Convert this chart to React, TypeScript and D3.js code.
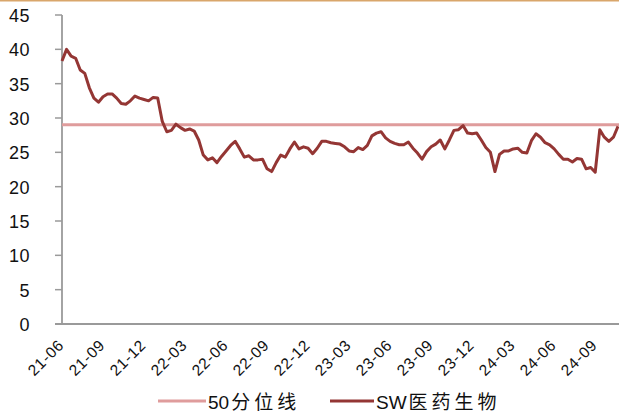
import React, { useEffect, useRef } from 'react'
import * as d3 from 'd3'

// PE (TTM), one point every ~10 days from 2021-06
const pe = [
  38.3, 40.0, 39.0, 38.7, 37.0, 36.5, 34.4, 32.9, 32.3, 33.1,
  33.5, 33.5, 32.9, 32.1, 32.0, 32.5, 33.2, 32.9, 32.7, 32.5,
  33.0, 32.9, 29.5, 28.0, 28.2, 29.1, 28.6, 28.2, 28.4, 28.1,
  26.8, 24.6, 23.9, 24.2, 23.5, 24.4, 25.2, 26.0, 26.6, 25.5,
  24.3, 24.5, 23.9, 23.9, 24.0, 22.6, 22.2, 23.5, 24.6, 24.3,
  25.5, 26.5, 25.5, 25.8, 25.6, 24.8, 25.6, 26.6, 26.6, 26.4,
  26.3, 26.2, 25.8, 25.2, 25.1, 25.7, 25.4, 26.0, 27.4, 27.8,
  28.0, 27.1, 26.6, 26.3, 26.1, 26.1, 26.5, 25.6, 24.9, 24.0,
  25.1, 25.8, 26.2, 26.8, 25.5, 26.8, 28.2, 28.3, 28.9, 27.8,
  27.7, 27.8, 26.8, 25.7, 25.0, 22.2, 24.7, 25.2, 25.2, 25.5,
  25.6, 25.0, 24.9, 26.7, 27.7, 27.2, 26.4, 26.1, 25.5, 24.7,
  24.0, 24.0, 23.6, 24.1, 24.0, 22.6, 22.8, 22.1, 28.3, 27.2,
  26.6, 27.2, 28.8,
]
const median = 29.0
const xLabels = [
  '21-06', '21-09', '21-12', '22-03', '22-06', '22-09', '22-12',
  '23-03', '23-06', '23-09', '23-12', '24-03', '24-06', '24-09',
]
const pointsPerQuarter = 9
const yTicks = [0, 5, 10, 15, 20, 25, 30, 35, 40, 45]
const seriesNames = ['50分位线', 'SW医药生物']
const colors = ['#df9c9c', '#943634']

const App = () => {
  const ref = useRef<SVGSVGElement>(null)

  useEffect(() => {
    const svg = d3.select(ref.current)
    svg.selectAll('*').remove()

    const x = d3.scaleLinear().domain([0, pe.length - 1]).range([62, 618])
    const y = d3.scaleLinear().domain([0, 45]).range([324, 15])
    const font = '"Liberation Sans", Arial, "Noto Sans CJK SC", sans-serif'

    // thin rule along the top edge
    svg.append('rect').attr('x', 0).attr('y', 0).attr('width', 619).attr('height', 1.5)
      .attr('fill', '#d9a66b')

    // y axis
    const yAxis = svg.append('g')
    yAxis.append('line')
      .attr('x1', 62).attr('x2', 62).attr('y1', y(45)).attr('y2', y(0))
      .attr('stroke', '#9a9a9a').attr('stroke-width', 1.8)
    yAxis.selectAll('.tick')
      .data(yTicks)
      .enter()
      .append('line')
      .attr('x1', 55).attr('x2', 62)
      .attr('y1', d => y(d)).attr('y2', d => y(d))
      .attr('stroke', '#9a9a9a').attr('stroke-width', 1.5)
    yAxis.selectAll('.lbl')
      .data(yTicks)
      .enter()
      .append('text')
      .attr('x', 30)
      .attr('y', d => y(d) + 1)
      .attr('text-anchor', 'end')
      .attr('dominant-baseline', 'central')
      .style('font-family', font)
      .style('font-size', '18px')
      .style('letter-spacing', '0.5px')
      .attr('fill', '#111')
      .text(d => d)

    // x axis
    svg.append('line')
      .attr('x1', 55).attr('x2', 619).attr('y1', y(0)).attr('y2', y(0))
      .attr('stroke', '#9a9a9a').attr('stroke-width', 1.8)
    svg.selectAll('.xlbl')
      .data(xLabels)
      .enter()
      .append('text')
      .attr('transform', (d, i) => `translate(${x(i * pointsPerQuarter) + 3},${346}) rotate(-45)`)
      .attr('text-anchor', 'end')
      .style('font-family', font)
      .style('font-size', '15.5px')
      .style('letter-spacing', '0.8px')
      .attr('fill', '#111')
      .text(d => d)

    // median line
    svg.append('line')
      .attr('x1', 62).attr('x2', 619).attr('y1', y(median)).attr('y2', y(median))
      .attr('stroke', colors[0]).attr('stroke-width', 3)

    // series
    const line = d3.line<number>()
      .x((d, i) => x(i))
      .y(d => y(d))
    svg.append('path')
      .datum(pe)
      .attr('d', line)
      .attr('fill', 'none')
      .attr('stroke', colors[1])
      .attr('stroke-width', 3)
      .attr('stroke-linejoin', 'round')

    // legend
    const legendX = [158, 330]
    const legendLen = [48, 44]
    const legend = svg.selectAll('.legend')
      .data(seriesNames)
      .enter()
      .append('g')
      .attr('transform', (d, i) => `translate(${legendX[i]},401)`)
    legend.append('line')
      .attr('x1', 0).attr('x2', (d, i) => legendLen[i]).attr('y1', 0).attr('y2', 0)
      .attr('stroke', (d, i) => colors[i]).attr('stroke-width', 3)
    const txt = legend.append('text')
      .attr('x', (d, i) => legendLen[i] + 2)
      .attr('y', 1)
      .attr('dominant-baseline', 'central')
      .style('font-family', font)
      .style('font-size', '19px')
      .attr('fill', '#111')
    // latin part tight, CJK part spaced out
    txt.append('tspan')
      .text(d => d.match(/^[A-Za-z0-9]*/)![0])
    txt.append('tspan')
      .attr('dx', 2)
      .style('letter-spacing', '4px')
      .text(d => d.replace(/^[A-Za-z0-9]*/, ''))
  }, [])

  return (
    <svg
      ref={ref}
      width={619}
      height={414}
      style={{ position: 'absolute', left: 0, top: 0, background: '#fff' }}
    />
  )
}

export default App
